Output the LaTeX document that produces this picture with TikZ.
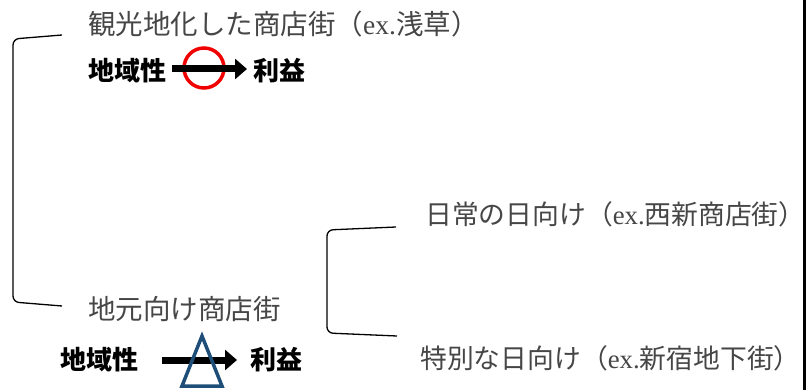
\documentclass[tikz,border=0pt]{standalone}
\usepackage{fontspec}
\setmainfont{Liberation Serif}
\newfontfamily\cjk{Noto Sans CJK JP}
\usetikzlibrary{arrows.meta}
\definecolor{txtgray}{RGB}{70,70,70}
\definecolor{triblue}{RGB}{31,78,121}
\definecolor{circred}{RGB}{240,0,0}
\tikzset{
  lighttext/.style={anchor=west, inner sep=0pt, text=txtgray, font=\fontsize{27.5}{30}\selectfont},
  righttext/.style={lighttext, font=\fontsize{26.8}{29}\selectfont},
  boldtext/.style={anchor=west, inner sep=0pt, text=black, font=\cjk\bfseries\fontsize{26}{28}\selectfont},
  bigarrow/.style={line width=7pt, -{Triangle[length=12pt,width=20pt]}},
  bracketline/.style={line width=1.3pt, black, rounded corners=6pt},
}
\begin{document}
\begin{tikzpicture}[x=1pt,y=-1pt]
\useasboundingbox (0,0) rectangle (806,390);
% texts
\node[lighttext] (title) at (88,24) {{\cjk 観光地化した商店街（}ex.{\cjk 浅草）}};
\node[lighttext] (local) at (88,309) {\cjk 地元向け商店街};
\node[righttext] (daily) at (425,214) {{\cjk 日常の日向け（}ex.{\cjk 西新商店街）}};
\node[righttext] (special) at (420,358) {{\cjk 特別な日向け（}ex.{\cjk 新宿地下街）}};
\node[boldtext] (r1) at (88,71) {地域性};
\node[boldtext] (p1) at (253,71) {利益};
\node[boldtext] (r2) at (60,360) {地域性};
\node[boldtext] (p2) at (250,360) {利益};
% circle mark
\draw[circred, line width=3.5pt] (204,68) circle (20);
% arrows
\draw[bigarrow, shorten <=6pt, shorten >=6pt] (r1.east |- 0,69) -- (p1.west |- 0,69);
\draw[bigarrow, shorten <=24pt, shorten >=13pt] (r2.east |- 0,360) -- (p2.west |- 0,360);
% triangle mark
\draw[triblue, line width=3.5pt, line join=miter] (202,336) -- (222,386) -- (182,386) -- cycle;
% left bracket
\coordinate (lbt) at (62,35);
\coordinate (lbb) at (62,306);
\draw[bracketline] (lbt) -- (13,39) -- (13,302) -- (lbb);
% right bracket
\coordinate (rbt) at (396,227);
\coordinate (rbb) at (397,336);
\draw[bracketline] (rbt) -- (327,230) -- (327,333) -- (rbb);
% right edge line
\draw[line width=3pt] (804.5,0) -- (804.5,390);
\end{tikzpicture}
\end{document}
